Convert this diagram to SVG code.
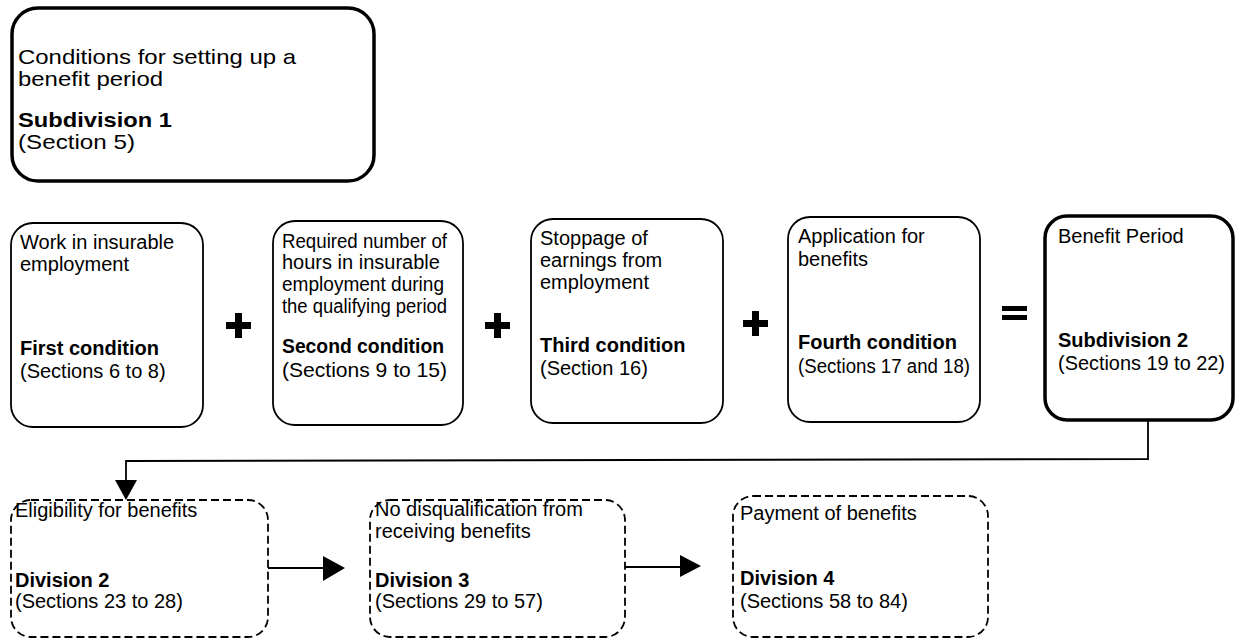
<svg xmlns="http://www.w3.org/2000/svg" width="1238" height="641" viewBox="0 0 1238 641">
<style>
  text { font-family: "Liberation Sans", Arial, sans-serif; fill: #000; }
  .t { font-size: 20px; }
  .tb { font-size: 20px; font-weight: bold; }
  .big { font-size: 21px; }
  .bigb { font-size: 21px; font-weight: bold; }
  .box { fill: #fff; stroke: #000; stroke-width: 1.8; }
  .thick { fill: #fff; stroke: #000; stroke-width: 3.5; }
  .dash { fill: #fff; stroke: #000; stroke-width: 1.8; stroke-dasharray: 8 4; }
  .line { fill: none; stroke: #000; stroke-width: 1.8; }
  .sym { fill: #000; }
</style>
<rect width="1238" height="641" fill="#fff"/>

<g id="connectors">
  <polyline class="line" points="1148,421 1148,459 126,461 126,482"/>
  <polygon class="sym" points="115,480 137,480 126,500"/>
  <line class="line" x1="268" y1="568" x2="324" y2="568"/>
  <polygon class="sym" points="323,556 345,568 323,581"/>
  <line class="line" x1="625" y1="567" x2="682" y2="567"/>
  <polygon class="sym" points="680,555 701,566 680,577"/>
</g>

<g id="operators">
  <path class="sym" d="M235,313 h7 v9 h9 v7 h-9 v9 h-7 v-9 h-9 v-7 h9 Z"/>
  <path class="sym" d="M494,313 h7 v9 h9 v7 h-9 v9 h-7 v-9 h-9 v-7 h9 Z"/>
  <path class="sym" d="M752,311 h7 v9 h9 v7 h-9 v9 h-7 v-9 h-9 v-7 h9 Z"/>
  <rect class="sym" x="1002" y="306" width="25" height="5"/>
  <rect class="sym" x="1002" y="315" width="25" height="5"/>
</g>

<g id="n-top">
  <rect class="thick" x="12" y="8" width="362" height="173" rx="26"/>
  <text class="big" x="18" y="64" textLength="278" lengthAdjust="spacingAndGlyphs">Conditions for setting up a</text>
  <text class="big" x="18" y="86" textLength="145" lengthAdjust="spacingAndGlyphs">benefit period</text>
  <text class="bigb" x="18" y="127" textLength="154" lengthAdjust="spacingAndGlyphs">Subdivision 1</text>
  <text class="big" x="18" y="149" textLength="117" lengthAdjust="spacingAndGlyphs">(Section 5)</text>
</g>

<g id="n-first">
  <rect class="box" x="11" y="223" width="192" height="204" rx="22"/>
  <text class="t" x="20" y="249">Work in insurable</text>
  <text class="t" x="20" y="271">employment</text>
  <text class="tb" x="20" y="355">First condition</text>
  <text class="t" x="20" y="378">(Sections 6 to 8)</text>
</g>

<g id="n-second">
  <rect class="box" x="273" y="221" width="190" height="204" rx="22"/>
  <text class="t" x="282" y="248" textLength="165" lengthAdjust="spacingAndGlyphs">Required number of</text>
  <text class="t" x="282" y="269">hours in insurable</text>
  <text class="t" x="282" y="291" textLength="162" lengthAdjust="spacingAndGlyphs">employment during</text>
  <text class="t" x="282" y="313" textLength="165" lengthAdjust="spacingAndGlyphs">the qualifying period</text>
  <text class="tb" x="282" y="353" textLength="162" lengthAdjust="spacingAndGlyphs">Second condition</text>
  <text class="t" x="282" y="377" style="font-size:21px" textLength="165" lengthAdjust="spacingAndGlyphs">(Sections 9 to 15)</text>
</g>

<g id="n-third">
  <rect class="box" x="531" y="219" width="192" height="204" rx="22"/>
  <text class="t" x="540" y="245">Stoppage of</text>
  <text class="t" x="540" y="267">earnings from</text>
  <text class="t" x="540" y="289">employment</text>
  <text class="tb" x="540" y="352">Third condition</text>
  <text class="t" x="540" y="375">(Section 16)</text>
</g>

<g id="n-fourth">
  <rect class="box" x="788" y="217" width="192" height="205" rx="22"/>
  <text class="t" x="798" y="243">Application for</text>
  <text class="t" x="798" y="266">benefits</text>
  <text class="tb" x="798" y="349">Fourth condition</text>
  <text class="t" x="798" y="373" textLength="172" lengthAdjust="spacingAndGlyphs">(Sections 17 and 18)</text>
</g>

<g id="n-period">
  <rect class="thick" x="1045" y="216" width="188" height="204" rx="22"/>
  <text class="t" x="1058" y="243">Benefit Period</text>
  <text class="tb" x="1058" y="347">Subdivision 2</text>
  <text class="t" x="1058" y="370" textLength="167" lengthAdjust="spacingAndGlyphs">(Sections 19 to 22)</text>
</g>

<g id="n-div2">
  <rect class="dash" x="11" y="500" width="257" height="137" rx="20"/>
  <text class="t" x="15" y="517">Eligibility for benefits</text>
  <text class="tb" x="15" y="587">Division 2</text>
  <text class="t" x="15" y="608">(Sections 23 to 28)</text>
</g>

<g id="n-div3">
  <rect class="dash" x="370" y="500" width="255" height="137" rx="20"/>
  <text class="t" x="375" y="516">No disqualification from</text>
  <text class="t" x="375" y="538">receiving benefits</text>
  <text class="tb" x="375" y="587">Division 3</text>
  <text class="t" x="375" y="608">(Sections 29 to 57)</text>
</g>

<g id="n-div4">
  <rect class="dash" x="733" y="496" width="255" height="141" rx="20"/>
  <text class="t" x="740" y="520">Payment of benefits</text>
  <text class="tb" x="740" y="585">Division 4</text>
  <text class="t" x="740" y="608">(Sections 58 to 84)</text>
</g>
</svg>
